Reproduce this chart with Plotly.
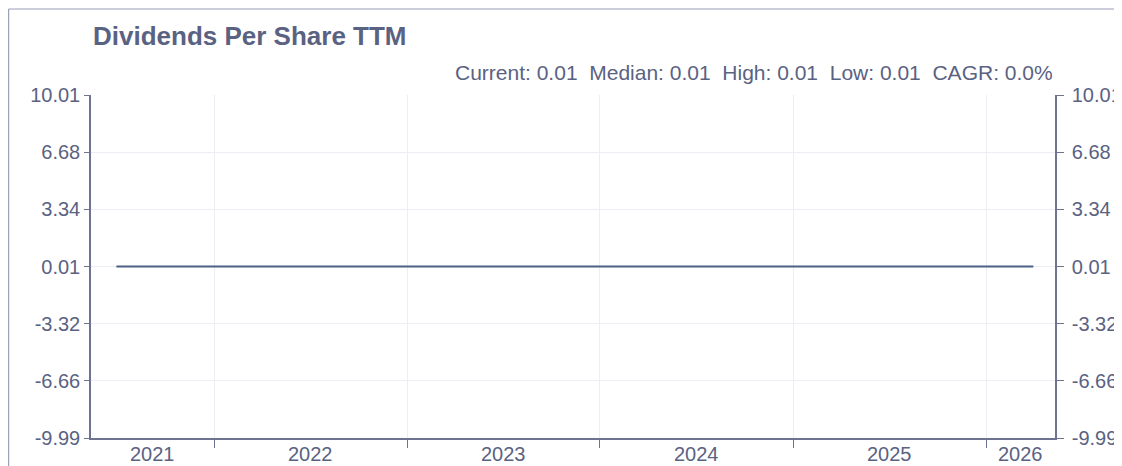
import plotly.graph_objects as go
import pandas as pd

# Data
dates = ["2021-06-30", "2021-09-30", "2021-12-31", "2022-03-31", "2022-06-30", "2022-09-30",
         "2022-12-31", "2023-03-31", "2023-06-30", "2023-09-30", "2023-12-31", "2024-03-31",
         "2024-06-30", "2024-09-30", "2024-12-31", "2025-03-31", "2025-06-30", "2025-09-30",
         "2025-12-31", "2026-03-31"]
dps_ttm = [0.01] * len(dates)
y_ticks = [10.01, 6.68, 3.34, 0.01, -3.32, -6.66, -9.99]
y_tick_labels = ["10.01", "6.68", "3.34", "0.01", "-3.32", "-6.66", "-9.99"]
year_bounds = ["2022-01-01", "2023-01-01", "2024-01-01", "2025-01-01", "2026-01-01"]
year_labels = ["2021", "2022", "2023", "2024", "2025", "2026"]
x_range = ["2021-05-13", "2026-05-11"]
title = "Dividends Per Share TTM"
stats = "Current: 0.01  Median: 0.01  High: 0.01  Low: 0.01  CAGR: 0.0%"

TXT = "#5a6282"
AX = "#6e7490"
GRID = "#eceef4"
FONT = "Liberation Sans, Arial, sans-serif"

W, H = 1122, 466
ML, MR, MT, MB = 83, 75, 87, 36
PW, PH = W - ML - MR, H - MT - MB

fig = go.Figure()
fig.add_trace(go.Scatter(x=dates, y=dps_ttm, mode="lines",
                         line=dict(color="#4a6085", width=2),
                         hoverinfo="x+y", showlegend=False))
# invisible trace on right axis
fig.add_trace(go.Scatter(x=dates, y=dps_ttm, mode="lines", yaxis="y2",
                         line=dict(color="rgba(0,0,0,0)"), hoverinfo="skip",
                         showlegend=False))

fig.update_layout(
    width=W, height=H,
    margin=dict(l=ML, r=MR, t=MT, b=MB, autoexpand=False),
    paper_bgcolor="white", plot_bgcolor="white",
    font=dict(family=FONT, color=TXT, size=20),
    xaxis=dict(type="date", range=x_range,
               tickvals=year_bounds, showticklabels=False,
               ticks="outside", ticklen=8, tickcolor=AX,
               showgrid=True, gridcolor=GRID, gridwidth=1,
               showline=True, linecolor=AX, linewidth=1.5,
               zeroline=False, fixedrange=True),
    yaxis=dict(range=[-9.99, 10.01], tickvals=y_ticks, ticktext=y_tick_labels,
               ticks="outside", ticklen=5, tickcolor=AX,
               showgrid=True, gridcolor=GRID, gridwidth=1,
               showline=True, linecolor=AX, linewidth=1.5,
               zeroline=False, tickfont=dict(size=20, color=TXT)),
    yaxis2=dict(range=[-9.99, 10.01], tickvals=y_ticks, ticktext=y_tick_labels,
                overlaying="y", side="right",
                ticks="outside", ticklen=7, tickcolor=AX, ticklabelstandoff=4,
                showgrid=False, showline=True, linecolor=AX, linewidth=1.5,
                zeroline=False, tickfont=dict(size=20, color=TXT)),
)

# Year labels centred in the visible part of each year
rng = [pd.Timestamp(x_range[0]), pd.Timestamp(x_range[1])]
bounds = [rng[0]] + [pd.Timestamp(b) for b in year_bounds] + [rng[1]]
for i, lab in enumerate(year_labels):
    mid = bounds[i] + (bounds[i + 1] - bounds[i]) / 2
    fig.add_annotation(x=mid, y=0, xref="x", yref="paper", yanchor="middle",
                       yshift=-16, text=lab, showarrow=False,
                       font=dict(size=20, color=TXT))

fig.add_annotation(x=0.0, xref="paper", y=1.0, yref="paper", yshift=59,
                   xanchor="left", yanchor="middle", xshift=0,
                   text="<b>" + title + "</b>", showarrow=False,
                   font=dict(size=26, color=TXT))
fig.add_annotation(x=1.0, xref="paper", y=1.0, yref="paper", yshift=23,
                   xanchor="right", yanchor="middle",
                   text=stats, showarrow=False,
                   font=dict(size=21, color=TXT))

# outer border (left and top edges visible)
bx = (0.6 - ML) / PW
by = (H - MB - 1) / PH
fig.add_shape(type="line", xref="paper", yref="paper", x0=bx, x1=bx, y0=-0.3, y1=by,
              line=dict(color="#9aa0b8", width=1.2))
fig.add_shape(type="line", xref="paper", yref="paper", x0=bx, x1=1.2, y0=by, y1=by,
              line=dict(color="#9aa0b8", width=1.2))

fig.write_html("out.html")
